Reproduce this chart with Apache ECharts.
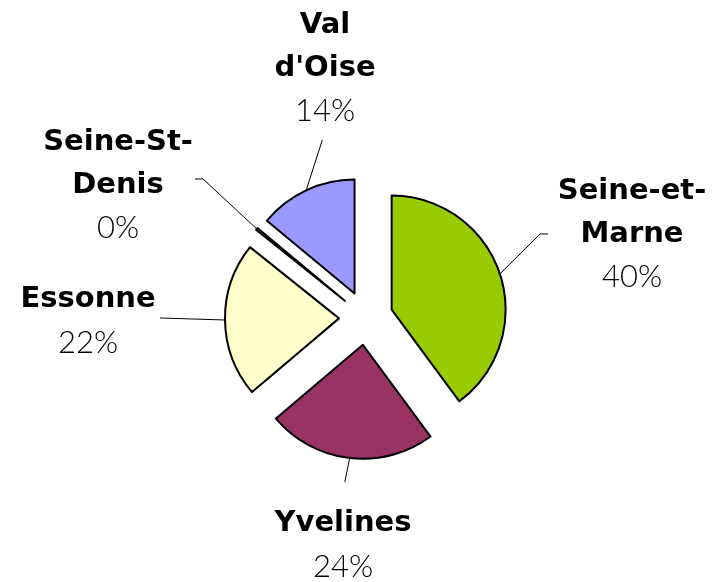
<!DOCTYPE html>
<html>
<head>
<meta charset="utf-8">
<script src="https://cdn.jsdelivr.net/npm/echarts@6/dist/echarts.min.js"></script>
<style>
  html, body { margin: 0; padding: 0; background: #fff; }
  #main { width: 720px; height: 582px; }
</style>
</head>
<body>
<div id="main"></div>
<script>
// departements, clockwise from 12 o'clock
var departements = ['Seine-et-Marne', 'Yvelines', 'Essonne', 'Seine-St-Denis', "Val d'Oise"];
var labelNames = ['Seine-et-\nMarne', 'Yvelines', 'Essonne', 'Seine-St-\nDenis', "Val\nd'Oise"];
var shares = [40, 24, 22, 0.3, 14];
var colors = ['#99CC00', '#993366', '#FFFFCC', '#CCFFFF', '#9999FF'];

var pieCenter = [366, 318];
var pieRadius = 114;
var explode = 27;

// label block centres and leader line elbows
var labelSpots = [
  { x: 632, y: 234, elbow: [540, 234], end: [548, 234] },
  { x: 343, y: 545, elbow: [345, 481], end: [345, 482] },
  { x: 88,  y: 321, elbow: [161, 318], end: [160, 318] },
  { x: 118, y: 185, elbow: [203, 179], end: [195, 179] },
  { x: 325, y: 68,  elbow: [322, 141], end: [322, 140] }
];

var chart = echarts.init(document.getElementById('main'));

var sliceData = departements.map(function (name, i) {
  return {
    name: name,
    value: shares[i],
    selected: true,
    itemStyle: { color: colors[i] },
    select: { itemStyle: { color: colors[i], borderColor: '#000', borderWidth: 2 } }
  };
});

var labelData = departements.map(function (name, i) {
  return { name: name, value: shares[i] };
});

var option = {
  animation: false,
  series: [{
    // exploded slices
    type: 'pie',
    center: pieCenter,
    radius: pieRadius,
    startAngle: 90,
    clockwise: true,
    selectedMode: 'multiple',
    selectedOffset: explode,
    silent: true,
    itemStyle: { borderColor: '#000', borderWidth: 2 },
    label: { show: false },
    labelLine: { show: false },
    data: sliceData
  }, {
    // same pie, invisible, only carrying the labels
    type: 'pie',
    center: pieCenter,
    radius: pieRadius,
    startAngle: 90,
    clockwise: true,
    silent: true,
    avoidLabelOverlap: false,
    itemStyle: { color: 'rgba(0,0,0,0)', borderWidth: 0 },
    label: {
      show: true,
      position: 'outside',
      formatter: function (p) {
        return '{n|' + labelNames[p.dataIndex].split('\n').join('}\n{n|') + '}\n{p|' + Math.round(p.percent) + '%}';
      },
      rich: {
        n: { fontFamily: 'DejaVu Sans', fontWeight: 'bold', fontSize: 29, color: '#000', lineHeight: 43, align: 'center' },
        p: { fontFamily: 'Lato', fontWeight: 300, fontSize: 31, color: '#000', lineHeight: 43, align: 'center' }
      }
    },
    labelLine: {
      show: true,
      length: 20,
      length2: 10,
      lineStyle: { color: '#000', width: 1 }
    },
    labelLayout: function (p) {
      var s = labelSpots[p.dataIndex];
      var pts = p.labelLinePoints;
      var start = s.elbow;
      if (pts) {
        // push the start out to the exploded slice's arc
        var dx = pts[0][0] - pieCenter[0], dy = pts[0][1] - pieCenter[1];
        var len = Math.sqrt(dx * dx + dy * dy) || 1;
        start = [pts[0][0] + dx / len * explode, pts[0][1] + dy / len * explode];
      }
      return {
        x: s.x,
        y: s.y,
        align: 'center',
        verticalAlign: 'middle',
        labelLinePoints: [start, s.elbow, s.end]
      };
    },
    data: labelData
  }]
};

chart.setOption(option);
</script>
</body>
</html>
